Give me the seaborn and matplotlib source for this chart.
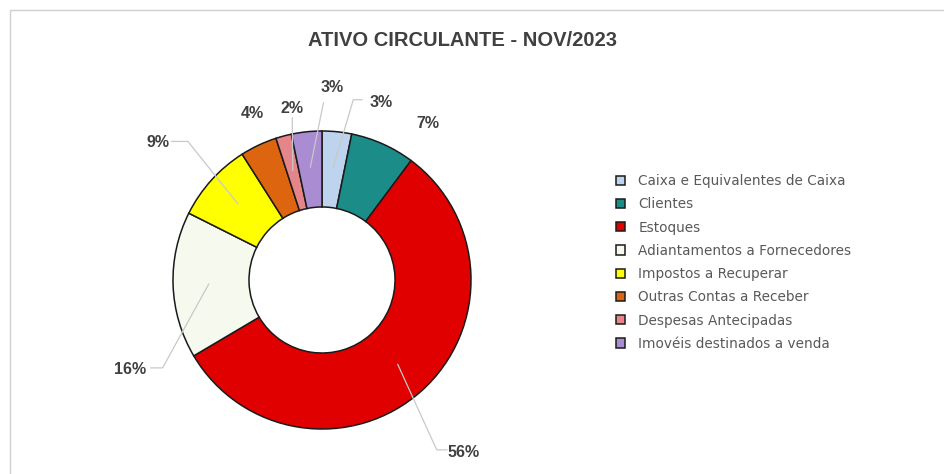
import matplotlib
matplotlib.use('Agg')
import matplotlib.pyplot as plt
import seaborn as sns
import numpy as np
from matplotlib.patches import Rectangle

# Data (percent of current assets, Nov/2023)
categories = [
    'Caixa e Equivalentes de Caixa',
    'Clientes',
    'Estoques',
    'Adiantamentos a Fornecedores',
    'Impostos a Recuperar',
    'Outras Contas a Receber',
    'Despesas Antecipadas',
    'Imovéis destinados a venda',
]
shares = [3.2, 7.0, 56.3, 15.9, 8.6, 4.0, 1.7, 3.3]
slice_colors = ['#BDD3EE', '#1C8C88', '#E00000', '#F5F9EE',
                '#FFFF00', '#DD650F', '#E5858A', '#A98CD2']

# Label layout in pie-radius units (Excel moved some labels by hand)
label_xy = [(0.40, 1.19), (0.71, 1.05), (0.95, -1.16), (-1.29, -0.60),
            (-1.10, 0.92), (-0.47, 1.12), (-0.20, 1.15), (0.07, 1.29)]
leader_end = [(0.27, 1.21), None, (0.84, -1.14), (-1.15, -0.59),
              (-1.01, 0.93), None, (-0.20, 1.09), (0.01, 1.19)]
leader_elbow = [(0.21, 1.21), None, (0.77, -1.14), (-1.07, -0.59),
                (-0.90, 0.93), None, None, None]

W, H = 944, 474
cx, cy, R = 322, 280, 149  # pixel centre and radius of the donut

sns.set_style('white')
plt.rcParams['font.family'] = ['Liberation Sans', 'DejaVu Sans']

fig = plt.figure(figsize=(W / 100, H / 100), dpi=100)
ax = fig.add_axes([0, 0, 1, 1])

palette = sns.color_palette(slice_colors)
wedges, _ = ax.pie(shares, colors=palette, startangle=90, counterclock=False,
                   radius=1.0,
                   wedgeprops=dict(width=0.51, edgecolor='#1a1a1a', linewidth=1.1))

ax.set_xlim(-cx / R, (W - cx) / R)
ax.set_ylim(-(H - cy) / R, cy / R)
ax.set_aspect('equal', adjustable='box')
ax.axis('off')

# percentage labels with leader lines
for i, w in enumerate(wedges):
    mid = np.deg2rad((w.theta1 + w.theta2) / 2)
    if leader_end[i] is not None:
        inner = (0.76 * np.cos(mid), 0.76 * np.sin(mid))
        pts = [inner]
        if leader_elbow[i] is not None:
            pts.append(leader_elbow[i])
        pts.append(leader_end[i])
        xs, ys = zip(*pts)
        ax.plot(xs, ys, color='#C9C9C9', lw=0.9, zorder=3)
    ax.text(label_xy[i][0], label_xy[i][1], f'{round(shares[i])}%',
            ha='center', va='center', fontsize=11.5, fontweight='bold',
            color='#404040')

fig.text(462 / W, 1 - 41 / H, 'ATIVO CIRCULANTE - NOV/2023', ha='center',
         va='center', fontsize=14.5, fontweight='bold', color='#404040')

leg = ax.legend(wedges, categories, loc='upper left',
                bbox_to_anchor=(616 / W, 1 - 174 / H),
                bbox_transform=fig.transFigure, frameon=False,
                prop={'family': ['DejaVu Sans'], 'size': 9.8},
                handlelength=0.68, handleheight=0.68, handletextpad=0.95,
                labelspacing=0.68, borderpad=0, borderaxespad=0)
for t in leg.get_texts():
    t.set_color('#595959')

# light chart-area border (cropped at right and bottom)
fig.add_artist(Rectangle((10 / W, -0.1), 1.2, 1.1 - 10 / H,
                         transform=fig.transFigure, fill=False,
                         edgecolor='#D0D0D0', linewidth=1.0))

fig.savefig('out.png', dpi=100, facecolor='white')
